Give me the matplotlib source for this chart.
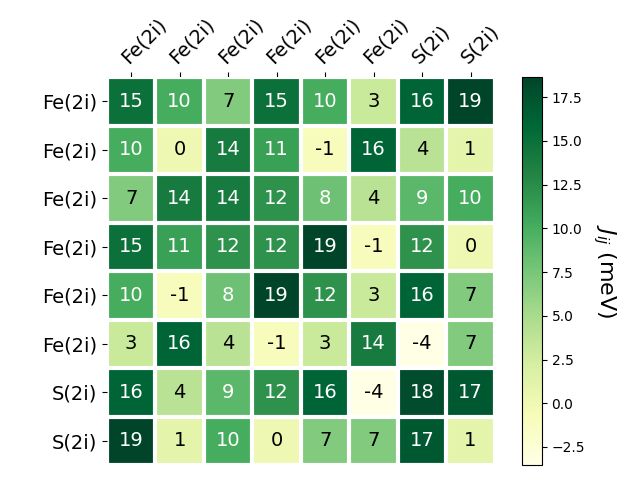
import numpy as np
import matplotlib
matplotlib.use("Agg")
import matplotlib.pyplot as plt

labels = ["Fe(2i)", "Fe(2i)", "Fe(2i)", "Fe(2i)", "Fe(2i)", "Fe(2i)", "S(2i)", "S(2i)"]
row0 = [15, 10, 7, 15, 10, 3, 16, 18.64]
row1 = [10, 0, 14, 11, -1, 16, 4, 1]
row2 = [7, 14, 14, 12, 8, 4, 9, 10]
row3 = [15, 11, 12, 12, 18.6, -1, 12, 0]
row4 = [10, -1, 8, 18.6, 12, 3, 16, 7]
row5 = [3, 16, 4, -1, 3, 14, -3.53, 7]
row6 = [16, 4, 9, 12, 16, -3.53, 18, 17]
row7 = [18.64, 1, 10, 0, 7, 7, 17, 1]
data = np.array([row0, row1, row2, row3, row4, row5, row6, row7])

fig, ax = plt.subplots(figsize=(6.4, 4.8), dpi=100)
im = ax.imshow(data, cmap="YlGn")
cbar = fig.colorbar(im, ax=ax)
cbar.ax.set_ylabel(r"$J_{ij}$ (meV)", rotation=-90, va="bottom", fontsize=16)

ax.set_xticks(np.arange(len(labels)), labels=labels, fontsize=14)
ax.set_yticks(np.arange(len(labels)), labels=labels, fontsize=14)
ax.tick_params(top=True, bottom=False, labeltop=True, labelbottom=False)
plt.setp(ax.get_xticklabels(), rotation=45, ha="left", rotation_mode="anchor")
for s in ax.spines.values():
    s.set_visible(False)
ax.set_xticks(np.arange(data.shape[1] + 1) - .5, minor=True)
ax.set_yticks(np.arange(data.shape[0] + 1) - .5, minor=True)
ax.grid(which="minor", color="w", linestyle="-", linewidth=3)
ax.tick_params(which="minor", bottom=False, left=False, top=False)

thr = (data.max() + data.min()) / 2
for i in range(data.shape[0]):
    for j in range(data.shape[1]):
        v = data[i, j]
        ax.text(j, i, f"{v:.0f}", ha="center", va="center", fontsize=14,
                color="white" if v > thr else "black")

fig.tight_layout()
fig.savefig("out.png")
